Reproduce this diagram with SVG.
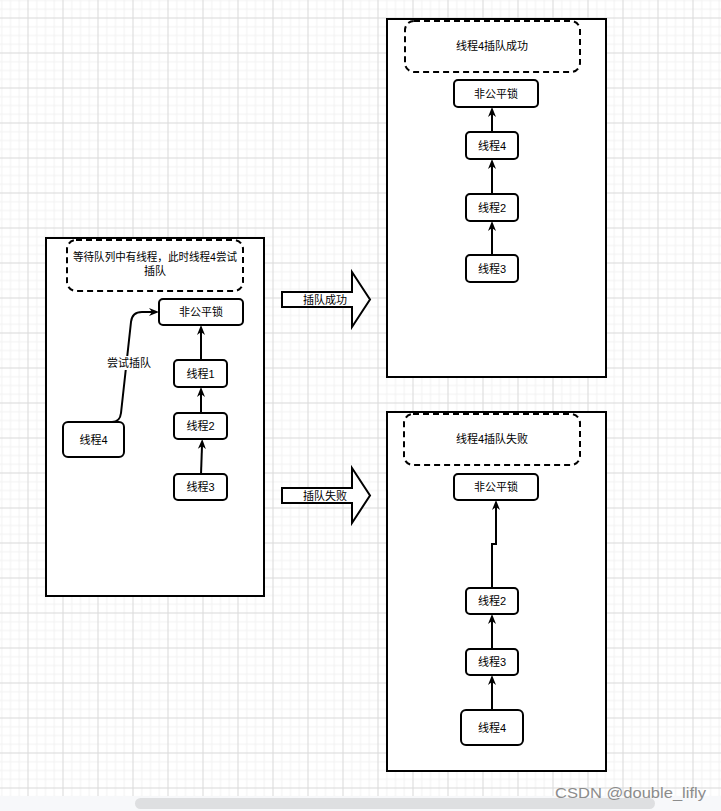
<svg xmlns="http://www.w3.org/2000/svg" width="721" height="811" viewBox="0 0 721 811">
<defs>
<pattern id="grid" x="27.5" y="17.5" width="35" height="35" patternUnits="userSpaceOnUse">
<path d="M9.25,0V35M18,0V35M26.75,0V35M0,9.25H35M0,18H35M0,26.75H35" stroke="#f1f1f1" stroke-width="1" fill="none"/>
<path d="M0.5,0V35M0,0.5H35" stroke="#d9d9d9" stroke-width="1" fill="none"/>
</pattern>
<marker id="arr" markerWidth="11" markerHeight="10" refX="3" refY="5" orient="auto" markerUnits="userSpaceOnUse" viewBox="0 0 11 10">
<path d="M0,1 L10,5 L0,9 L3,5 Z" fill="#000"/>
</marker>
</defs>
<style>
.cont{fill:#fff;stroke:#000;stroke-width:2}
.dash{fill:#fff;stroke:#000;stroke-width:2;stroke-dasharray:6 4}
.node{fill:#fff;stroke:#000;stroke-width:2}
.big{fill:#fff;stroke:#000;stroke-width:2}
.t{font-family:"Liberation Sans","Noto Sans CJK SC",sans-serif;font-size:11px;fill:#000;text-anchor:middle;dominant-baseline:central}
.edge{fill:none;stroke:#000;stroke-width:2;marker-end:url(#arr)}
</style>
<rect x="0" y="0" width="721" height="811" fill="#fff"/>
<rect x="0" y="0" width="721" height="796" fill="url(#grid)"/>
<rect x="0" y="796" width="721" height="15" fill="#f7f8fa"/>
<rect x="135" y="798" width="520" height="11" rx="5.5" fill="#dedfe1"/>

<g id="container-left">
<rect class="cont" x="46" y="238" width="218" height="358"/>
</g>
<g id="note-left">
<rect class="dash" x="67" y="240" width="176" height="51" rx="9"/>
<text class="t" x="155" y="257" textLength="164" lengthAdjust="spacingAndGlyphs">等待队列中有线程，此时线程4尝试</text>
<text class="t" x="155" y="271">插队</text>
</g>
<g id="lock-left">
<rect class="node" x="159" y="299" width="84" height="26" rx="4"/>
<text class="t" x="201" y="312">非公平锁</text>
</g>
<g id="t1-left">
<rect class="node" x="174" y="360" width="53" height="27" rx="4"/>
<text class="t" x="200.5" y="373.5">线程1</text>
</g>
<g id="t2-left">
<rect class="node" x="174" y="413" width="53" height="26" rx="4"/>
<text class="t" x="200.5" y="426">线程2</text>
</g>
<g id="t3-left">
<rect class="node" x="174" y="474" width="53" height="26" rx="4"/>
<text class="t" x="200.5" y="487">线程3</text>
</g>
<g id="t4-left">
<rect class="node" x="63" y="422" width="61" height="35" rx="5"/>
<text class="t" x="93.5" y="439.5">线程4</text>
</g>

<g id="arrow-success">
<path class="big" d="M282,292 L352,292 L352,272 L370,299.5 L352,327 L352,307 L282,307 Z"/>
<text class="t" x="325" y="299.5">插队成功</text>
</g>
<g id="arrow-fail">
<path class="big" d="M282,488 L352,488 L352,468 L370,495.5 L352,523 L352,503 L282,503 Z"/>
<text class="t" x="325" y="495.5">插队失败</text>
</g>

<g id="container-top">
<rect class="cont" x="387" y="19" width="219" height="358"/>
</g>
<g id="note-top">
<rect class="dash" x="405" y="21" width="175" height="51" rx="9"/>
<text class="t" x="492" y="46">线程4插队成功</text>
</g>
<g id="lock-top">
<rect class="node" x="454" y="80" width="84" height="27" rx="4"/>
<text class="t" x="496" y="93.5">非公平锁</text>
</g>
<g id="t4-top">
<rect class="node" x="466" y="132" width="52" height="27" rx="4"/>
<text class="t" x="492" y="145.5">线程4</text>
</g>
<g id="t2-top">
<rect class="node" x="466" y="194" width="52" height="27" rx="4"/>
<text class="t" x="492" y="207.5">线程2</text>
</g>
<g id="t3-top">
<rect class="node" x="466" y="255" width="52" height="27" rx="4"/>
<text class="t" x="492" y="268.5">线程3</text>
</g>

<g id="container-bottom">
<rect class="cont" x="387" y="412" width="219" height="359"/>
</g>
<g id="note-bottom">
<rect class="dash" x="404" y="414" width="176" height="51" rx="9"/>
<text class="t" x="492" y="439">线程4插队失败</text>
</g>
<g id="lock-bottom">
<rect class="node" x="454" y="474" width="84" height="26" rx="4"/>
<text class="t" x="496" y="487">非公平锁</text>
</g>
<g id="t2-bottom">
<rect class="node" x="466" y="588" width="52" height="26" rx="4"/>
<text class="t" x="492" y="601">线程2</text>
</g>
<g id="t3-bottom">
<rect class="node" x="466" y="649" width="52" height="26" rx="4"/>
<text class="t" x="492" y="662">线程3</text>
</g>
<g id="t4-bottom">
<rect class="node" x="461" y="710" width="62" height="35" rx="5"/>
<text class="t" x="492" y="727.5">线程4</text>
</g>

<g id="connectors">
<path class="edge" d="M201,360 L201,332"/>
<path class="edge" d="M201,413 L201,394"/>
<path class="edge" d="M201,474 L202,446"/>
<path class="edge" d="M95,422 L112,422 Q120,422 121,413 L131,322 Q132,312 142,312 L152,312"/>
<rect x="108" y="356" width="42" height="14" fill="#fff"/>
<text class="t" x="129" y="363">尝试插队</text>
<path class="edge" d="M492,132 L492,114"/>
<path class="edge" d="M492,194 L492,166"/>
<path class="edge" d="M492,255 L492,228"/>
<path class="edge" d="M492,588 L492,544 L496,544 L496,507"/>
<path class="edge" d="M492,649 L492,621"/>
<path class="edge" d="M492,710 L492,682"/>
</g>

<text x="555" y="798" font-family="'Liberation Sans','Noto Sans CJK SC',sans-serif" font-size="15" fill="#8c8c8c" textLength="151" lengthAdjust="spacingAndGlyphs">CSDN @double_lifly</text>
</svg>
